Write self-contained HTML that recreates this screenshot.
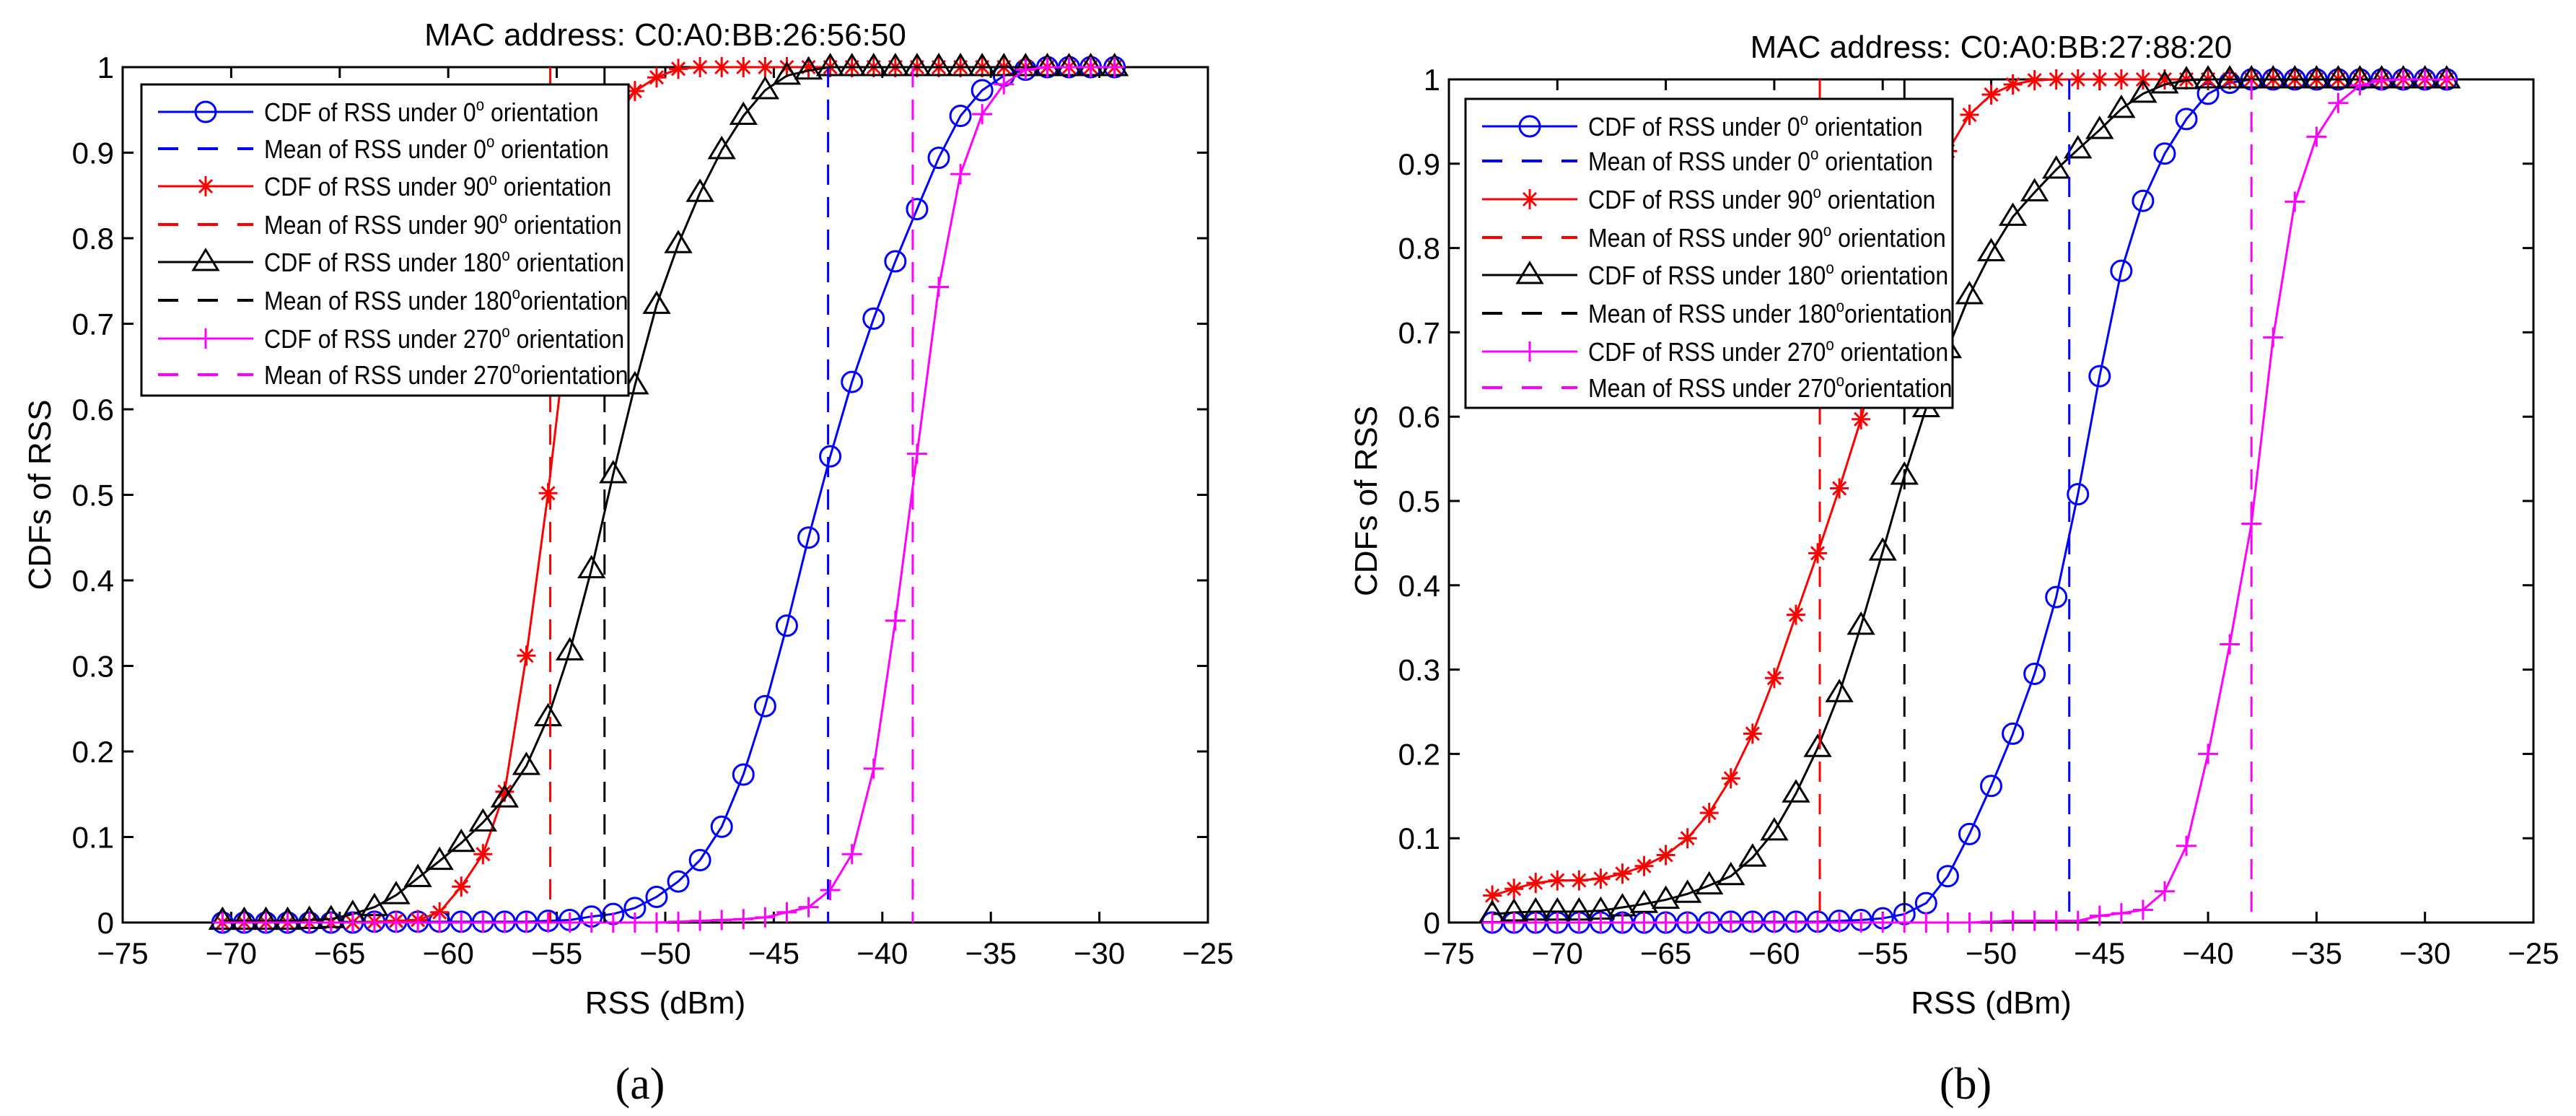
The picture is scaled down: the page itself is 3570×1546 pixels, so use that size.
<!DOCTYPE html>
<html><head><meta charset="utf-8"><style>
html,body{margin:0;padding:0;background:#fff;}
svg{display:block;font-family:"Liberation Sans",Arial,sans-serif;}
</style></head><body>
<svg id="fig" width="3570" height="1546" viewBox="0 0 3570 1546" xmlns="http://www.w3.org/2000/svg"></svg>
<script>
// ---------- data: panel (a) ----------
const xA = [-70.4,-69.4,-68.4,-67.4,-66.4,-65.4,-64.4,-63.4,-62.4,-61.4,-60.4,-59.4,-58.4,-57.4,-56.4,-55.4,-54.4,-53.4,-52.4,-51.4,-50.4,-49.4,-48.4,-47.4,-46.4,-45.4,-44.4,-43.4,-42.4,-41.4,-40.4,-39.4,-38.4,-37.4,-36.4,-35.4,-34.4,-33.4,-32.4,-31.4,-30.4,-29.3];
const a0 = [0,0,0,0,0,0,0,0.001,0.001,0.001,0.001,0.001,0.001,0.001,0.001,0.002,0.003,0.007,0.01,0.017,0.03,0.048,0.073,0.112,0.173,0.253,0.347,0.45,0.545,0.632,0.706,0.773,0.834,0.894,0.943,0.973,0.99,0.997,1,1,1,1];
const a90 = [0,0,0,0,0,0,0,0.001,0.002,0.003,0.012,0.042,0.08,0.153,0.312,0.502,0.72,0.87,0.935,0.972,0.988,0.998,1,1,1,1,1,1,1,1,1,1,1,1,1,1,1,1,1,1,1,1];
const a180 = [0.002,0.002,0.002,0.002,0.003,0.004,0.01,0.018,0.032,0.052,0.072,0.093,0.117,0.145,0.183,0.24,0.317,0.413,0.524,0.628,0.722,0.793,0.853,0.903,0.943,0.973,0.99,0.996,1,1,1,1,1,1,1,1,1,1,1,1,1,1];
const a270 = [0,0,0,0,0,0,0,0,0,0,0,0,0,0,0,0,0,0,0,0,0,0.001,0.002,0.003,0.004,0.006,0.012,0.018,0.038,0.08,0.18,0.353,0.548,0.743,0.875,0.945,0.98,0.997,1,1,1,1];
const meansA = [-42.5,-55.3,-52.8,-38.6];
// ---------- data: panel (b) ----------
const xB = [-73,-72,-71,-70,-69,-68,-67,-66,-65,-64,-63,-62,-61,-60,-59,-58,-57,-56,-55,-54,-53,-52,-51,-50,-49,-48,-47,-46,-45,-44,-43,-42,-41,-40,-39,-38,-37,-36,-35,-34,-33,-32,-31,-30,-29];
const b0 = [0,0,0,0,0,0,0,0,0,0,0,0.001,0.001,0.001,0.001,0.001,0.002,0.003,0.005,0.01,0.023,0.055,0.105,0.162,0.224,0.295,0.386,0.508,0.648,0.773,0.856,0.912,0.953,0.983,0.996,1,1,1,1,1,1,1,1,1,1];
const b90 = [0.032,0.04,0.047,0.05,0.05,0.052,0.058,0.067,0.08,0.1,0.13,0.171,0.224,0.29,0.365,0.438,0.515,0.597,0.7,0.8,0.87,0.915,0.958,0.982,0.994,0.999,1,1,1,1,1,1,1,1,1,1,1,1,1,1,1,1,1,1,1];
const b180 = [0.01,0.012,0.013,0.013,0.013,0.014,0.018,0.022,0.027,0.034,0.044,0.055,0.077,0.108,0.153,0.207,0.272,0.352,0.44,0.53,0.61,0.68,0.744,0.795,0.837,0.866,0.893,0.917,0.94,0.965,0.983,0.994,0.999,1,1,1,1,1,1,1,1,1,1,1,1];
const b270 = [0,0,0,0,0,0,0,0,0,0,0,0,0,0,0,0,0,0,0,0,0,0,0,0.001,0.002,0.002,0.002,0.002,0.008,0.011,0.015,0.037,0.091,0.2,0.33,0.473,0.694,0.855,0.932,0.972,0.993,0.999,1,1,1];
const meansB = [-46.4,-57.9,-54.0,-38.0];
const xTicks = [-75,-70,-65,-60,-55,-50,-45,-40,-35,-30,-25];
const yTicks = [0,0.1,0.2,0.3,0.4,0.5,0.6,0.7,0.8,0.9,1];
const yTickLabels = ["0","0.1","0.2","0.3","0.4","0.5","0.6","0.7","0.8","0.9","1"];
const legendLabels = ["CDF of RSS under 0","Mean of RSS under 0","CDF of RSS under 90","Mean of RSS under 90","CDF of RSS under 180","Mean of RSS under 180","CDF of RSS under 270","Mean of RSS under 270"];

const NS="http://www.w3.org/2000/svg";
const svg=document.getElementById('fig');
function mk(tag,attrs,parent){const e=document.createElementNS(NS,tag);for(const k in attrs)e.setAttribute(k,attrs[k]);(parent||svg).appendChild(e);return e;}
const colors=['#0000ff','#ff0000','#000000','#ff00ff'];
const markers=['circle','star','triangle','plus'];

function marker(g,type,cx,cy,col){
  if(type==='circle'){mk('circle',{cx:cx,cy:cy,r:14,fill:'none',stroke:col,'stroke-width':3},g);}
  else if(type==='triangle'){mk('polygon',{points:`${cx},${cy-17} ${cx-17},${cy+11} ${cx+17},${cy+11}`,fill:'none',stroke:col,'stroke-width':3},g);}
  else if(type==='plus'){mk('path',{d:`M${cx-14},${cy}H${cx+14}M${cx},${cy-14}V${cy+14}`,stroke:col,'stroke-width':3},g);}
  else {mk('path',{d:`M${cx-13},${cy}H${cx+13}M${cx},${cy-14}V${cy+14}M${cx-9},${cy-9}L${cx+9},${cy+9}M${cx-9},${cy+9}L${cx+9},${cy-9}`,stroke:col,'stroke-width':3},g);}
}

function panel(cfg){
  const {L,R,T,B,xs,series,means,title,cap,lg,rows,ylx,capx,tid}=cfg;
  const sx=v=>L+(v+75)/50*(R-L);
  const sy=v=>B-v*(B-T);
  const g=mk('g',{});
  
  
  const box=mk('rect',{x:L,y:T,width:R-L,height:B-T,fill:'none',stroke:'#000','stroke-width':3},g);
  
  
  xTicks.forEach(v=>{
    const x=sx(v);
    mk('path',{d:`M${x},${B}V${B-15}M${x},${T}V${T+15}`,stroke:'#000','stroke-width':3},g);
    const t=mk('text',{x:x,y:B+57,'font-size':42,'text-anchor':'middle'},g);
    t.textContent='\u2212'+Math.abs(v);
    
    
  });
  yTicks.forEach((v,i)=>{
    const y=sy(v);
    mk('path',{d:`M${L},${y}H${L+15}M${R},${y}H${R-15}`,stroke:'#000','stroke-width':3},g);
    const t=mk('text',{x:L-12,y:y+15,'font-size':42,'text-anchor':'end'},g);
    t.textContent=yTickLabels[i];
    
    
  });
  series.forEach((ys,si)=>{
    const sg=mk('g',{},g);
    
    
    const pts=ys.map((v,i)=>sx(xs[i])+','+sy(v)).join(' ');
    mk('polyline',{points:pts,fill:'none',stroke:colors[si],'stroke-width':3},sg);
    ys.forEach((v,i)=>marker(sg,markers[si],sx(xs[i]),sy(v),colors[si]));
  });
  means.forEach((m,si)=>{
    const l=mk('line',{x1:sx(m),x2:sx(m),y1:T,y2:B,stroke:colors[si],'stroke-width':3,'stroke-dasharray':'28,17'},g);
    
    
  });
  const lgG=mk('g',{},g);
  
  
  mk('rect',{x:lg[0],y:lg[1],width:lg[2]-lg[0],height:lg[3]-lg[1],fill:'#fff',stroke:'#000','stroke-width':3},lgG);
  const orderCol=[0,0,1,1,2,2,3,3];
  legendLabels.forEach((lab,i)=>{
    const y=lg[1]+rows[i];
    const col=colors[orderCol[i]];
    const x1=lg[0]+23,x2=lg[0]+155;
    if(i%2===0){mk('line',{x1:x1,x2:x2,y1:y,y2:y,stroke:col,'stroke-width':3},lgG);marker(lgG,markers[orderCol[i]],(x1+x2)/2,y,col);}
    else{mk('line',{x1:x1,x2:x2,y1:y,y2:y,stroke:col,'stroke-width':4,'stroke-dasharray':'28,27'},lgG);}
    const tg=mk('g',{transform:`translate(${lg[0]+170},${y+13}) scale(0.89,1)`},lgG);
    const t=mk('text',{x:0,y:0,'font-size':36},tg);
    t.textContent=lab;
    const sup=mk('tspan',{dy:-15,'font-size':23},t);sup.textContent='o';
    const rest=mk('tspan',{dy:15},t);rest.textContent=(i>=5&&i%2===1)?'orientation':' orientation';
    
    
  });
  const tt=mk('text',{x:(L+R)/2,y:T-30,'font-size':44,'text-anchor':'middle'},g);
  tt.textContent=title;
  
  
  const xl=mk('text',{x:(L+R)/2,y:1404,'font-size':44,'text-anchor':'middle'},g);
  xl.textContent='RSS (dBm)';
  
  
  const yl=mk('text',{x:0,y:0,'font-size':44,'text-anchor':'middle',transform:`translate(${ylx},${(T+B)/2}) rotate(-90)`},g);
  yl.textContent='CDFs of RSS';
  
  
  const c=mk('text',{x:capx,y:1522,'font-size':62,'text-anchor':'middle','font-family':'"Liberation Serif",serif'},g);
  c.textContent=cap;
  
  
}
panel({tid:'panel-a',L:170,R:1674,T:93,B:1278,xs:xA,series:[a0,a90,a180,a270],means:meansA,title:'MAC address: C0:A0:BB:26:56:50',cap:'(a)',lg:[196,117,871,548],rows:[38,89,141,194,246,299,352,402],ylx:70,capx:887});
panel({tid:'panel-b',L:2008,R:3511,T:110,B:1278,xs:xB,series:[b0,b90,b180,b270],means:meansB,title:'MAC address: C0:A0:BB:27:88:20',cap:'(b)',lg:[2031,137,2706,565],rows:[38,86,139,192,244,297,350,400],ylx:1908,capx:2724});
</script>
</body></html>
